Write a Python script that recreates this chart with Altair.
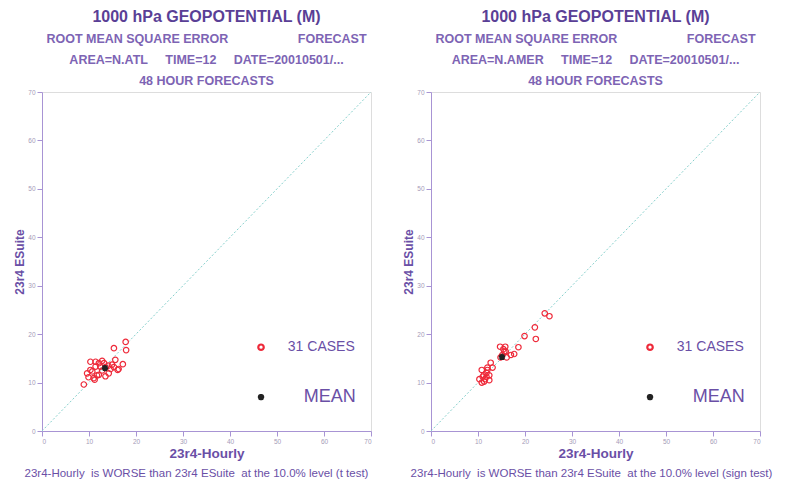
import altair as alt
import pandas as pd

# ---------------- data ----------------
ticks = [0, 10, 20, 30, 40, 50, 60, 70]

atl_hourly = [17.8, 17.9, 15.3, 10.3, 15.6, 17.2, 12.8, 12.1, 14.9, 11.4, 13.5,
              16.1, 14.6, 10.3, 9.6, 12.1, 13.5, 9.9, 11.2, 8.9, 11.7, 11.0,
              12.8, 14.1, 12.4, 15.3, 16.3, 10.7, 13.2, 11.4, 14.2]
atl_esuite = [18.4, 16.7, 17.1, 14.3, 14.7, 13.8, 14.5, 14.0, 13.7, 13.3, 13.2,
              12.6, 12.8, 12.6, 11.9, 11.6, 11.3, 11.1, 10.6, 9.6, 11.5, 10.9,
              12.5, 13.5, 13.3, 13.2, 12.8, 12.3, 14.0, 14.3, 11.9]
atl_mean = [13.4, 13.0]

amer_hourly = [24.2, 25.2, 22.1, 22.3, 19.9, 18.6, 17.7, 17.0, 14.7, 15.8, 15.6,
               15.2, 16.1, 14.8, 12.7, 13.1, 12.0, 10.8, 11.8, 12.4, 11.0, 10.3,
               12.4, 11.5, 10.8, 11.8, 12.0, 11.2, 15.9, 15.4, 11.3]
amer_esuite = [24.3, 23.7, 21.4, 19.0, 19.6, 17.3, 15.9, 15.7, 17.4, 17.4, 16.4,
               15.7, 15.2, 15.2, 14.1, 13.1, 13.1, 12.6, 12.0, 11.5, 11.2, 10.7,
               10.5, 10.7, 10.0, 11.2, 12.6, 11.5, 16.4, 16.9, 10.2]
amer_mean = [15.1, 15.3]

x_title = "23r4-Hourly"
y_title = "23r4 ESuite"
main_title = "1000 hPa GEOPOTENTIAL (M)"
NB = "\u00a0"
sub_left = ["ROOT MEAN SQUARE ERROR" + NB * 20 + "FORECAST",
            "AREA=N.ATL" + NB * 5 + "TIME=12" + NB * 5 + "DATE=20010501/...",
            "48 HOUR FORECASTS"]
sub_right = ["ROOT MEAN SQUARE ERROR" + NB * 20 + "FORECAST",
             "AREA=N.AMER" + NB * 5 + "TIME=12" + NB * 5 + "DATE=20010501/...",
             "48 HOUR FORECASTS"]
foot_left = "23r4-Hourly" + NB + " is WORSE than 23r4 ESuite" + NB + " at the 10.0% level (t test)"
foot_right = "23r4-Hourly" + NB + " is WORSE than 23r4 ESuite" + NB + " at the 10.0% level (sign test)"

# ---------------- styling ----------------
W, H = 329, 339
FONT = "Liberation Sans"
PURPLE = "#6a4fa6"
PURPLE_D = "#5a3f96"
AXIS_C = "#a894d4"
LABEL_C = "#a59bb8"
RED = "#ee2a3a"
TEAL = "#86d0cc"


def panel(hourly, esuite, mean, subtitle, footer, foot_dx):
    n = len(hourly)
    xs = alt.Scale(domain=[0, 70], nice=False, zero=False)
    ys = alt.Scale(domain=[0, 70], nice=False, zero=False)
    xaxis = alt.Axis(values=ticks, title=x_title, grid=False, tickSize=5,
                     labelPadding=2, labelFontSize=6.5, labelColor=LABEL_C,
                     labelFont=FONT, domainColor=AXIS_C, tickColor=AXIS_C,
                     titleFont=FONT, titleFontSize=13.5, titleFontWeight="bold",
                     titleColor=PURPLE, titlePadding=2)
    yaxis = alt.Axis(values=ticks, title=y_title, grid=False, tickSize=5,
                     labelPadding=2, labelFontSize=6.5, labelColor=LABEL_C,
                     labelFont=FONT, domainColor=AXIS_C, tickColor=AXIS_C,
                     titleFont=FONT, titleFontSize=12, titleFontWeight="bold",
                     titleColor=PURPLE, titlePadding=1)

    df = pd.DataFrame({"hourly": hourly, "esuite": esuite})
    diag_df = pd.DataFrame({"v": [0, 70]})

    diag = alt.Chart(diag_df).mark_line(color=TEAL, strokeDash=[2, 2], strokeWidth=1).encode(
        x=alt.X("v:Q", scale=xs, axis=xaxis),
        y=alt.Y("v:Q", scale=ys, axis=yaxis),
    )
    pts = alt.Chart(df).mark_point(shape="circle", filled=False, color=RED,
                                   size=30, strokeWidth=1.2, opacity=1).encode(
        x=alt.X("hourly:Q", scale=xs, axis=xaxis),
        y=alt.Y("esuite:Q", scale=ys, axis=yaxis),
    )
    asterisk = "M-1,0L1,0M0,-1L0,1M-0.75,-0.75L0.75,0.75M-0.75,0.75L0.75,-0.75"
    mean_df = pd.DataFrame({"hourly": [mean[0]], "esuite": [mean[1]]})
    mean_pt = alt.Chart(mean_df).mark_point(shape=asterisk, filled=False, color="#222222",
                                            size=40, strokeWidth=1.8, opacity=1).encode(
        x=alt.X("hourly:Q", scale=xs, axis=xaxis),
        y=alt.Y("esuite:Q", scale=ys, axis=yaxis),
    )
    # legend (in data coordinates)
    leg_c = alt.Chart(pd.DataFrame({"a": [0]})).mark_point(
        shape="circle", filled=False, color=RED, size=30, strokeWidth=2.2, opacity=1).encode(
        x=alt.datum(46.6, scale=xs), y=alt.datum(17.3, scale=ys))
    leg_m = alt.Chart(pd.DataFrame({"a": [0]})).mark_point(
        shape=asterisk, filled=False, color="#222222", size=40, strokeWidth=2, opacity=1).encode(
        x=alt.datum(46.6, scale=xs), y=alt.datum(7.0, scale=ys))
    leg_t1 = alt.Chart(pd.DataFrame({"t": [f"{n} CASES"]})).mark_text(
        align="left", baseline="middle", font=FONT, fontSize=14, color=PURPLE).encode(
        x=alt.datum(52.3, scale=xs), y=alt.datum(17.3, scale=ys), text="t:N")
    leg_t2 = alt.Chart(pd.DataFrame({"t": ["MEAN"]})).mark_text(
        align="left", baseline="middle", font=FONT, fontSize=18, color=PURPLE).encode(
        x=alt.datum(55.7, scale=xs), y=alt.datum(7.0, scale=ys), text="t:N")
    foot = alt.Chart(pd.DataFrame({"t": [footer]})).mark_text(
        align="center", baseline="middle", font=FONT, fontSize=11.5, color=PURPLE).encode(
        x=alt.value(W / 2 + foot_dx), y=alt.value(H + 43), text="t:N")

    return alt.layer(diag, pts, mean_pt, leg_c, leg_m, leg_t1, leg_t2, foot).properties(
        width=W, height=H,
        title=alt.TitleParams(text=main_title, subtitle=subtitle, anchor="middle",
                              font=FONT, fontSize=16, fontWeight="bold", color=PURPLE_D,
                              subtitleFont=FONT, subtitleFontSize=12.5, subtitleFontWeight="bold",
                              subtitleColor="#7d64b4", subtitleLineHeight=21,
                              subtitlePadding=8, offset=2),
    )


left = panel(atl_hourly, atl_esuite, atl_mean, sub_left, foot_left, -10)
right = panel(amer_hourly, amer_esuite, amer_mean, sub_right, foot_right, -4)

chart = alt.hconcat(left, right, spacing=60, bounds="flush").properties(
    padding={"left": 5, "top": 0, "right": 0, "bottom": 0}
).configure_view(stroke=AXIS_C, strokeWidth=1).configure(background="white")

chart.save("out.html", embed_options={"renderer": "svg", "actions": False})
